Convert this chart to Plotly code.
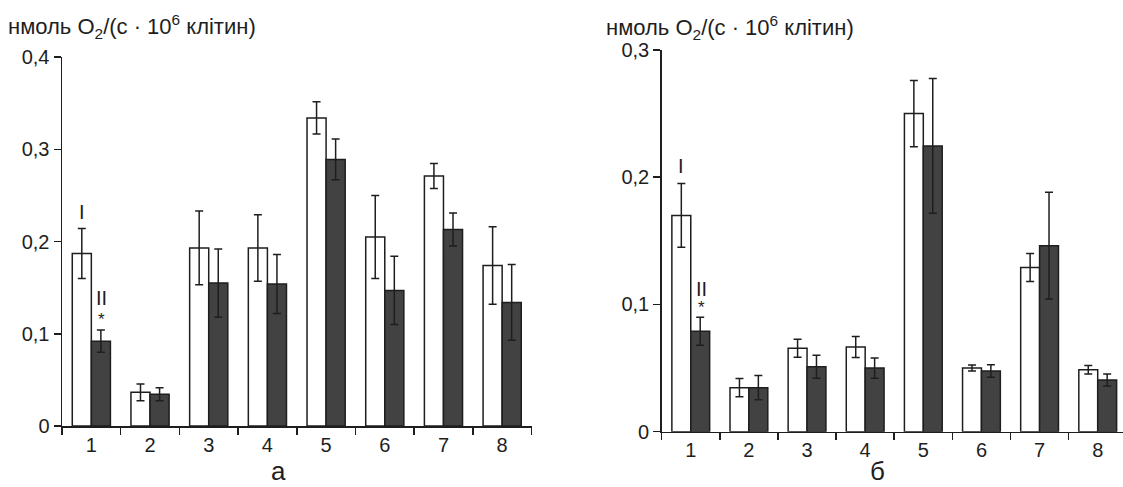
import plotly.graph_objects as go

categories = ["1", "2", "3", "4", "5", "6", "7", "8"]

# Panel а
a_I = [0.187, 0.0365, 0.193, 0.193, 0.334, 0.205, 0.271, 0.174]
a_I_err = [0.027, 0.009, 0.040, 0.036, 0.0175, 0.045, 0.0135, 0.042]
a_II = [0.092, 0.0344, 0.155, 0.154, 0.289, 0.147, 0.213, 0.134]
a_II_err = [0.012, 0.007, 0.037, 0.032, 0.022, 0.037, 0.018, 0.041]

# Panel б
b_I = [0.170, 0.0346, 0.0656, 0.0666, 0.250, 0.0501, 0.129, 0.0487]
b_I_err = [0.025, 0.0072, 0.007, 0.0083, 0.026, 0.0024, 0.011, 0.0033]
b_II = [0.079, 0.0346, 0.0511, 0.050, 0.2246, 0.0477, 0.1462, 0.0406]
b_II_err = [0.011, 0.0095, 0.009, 0.008, 0.053, 0.005, 0.042, 0.0047]

a_tickvals = [0, 0.1, 0.2, 0.3, 0.4]
a_ticktext = ["0", "0,1", "0,2", "0,3", "0,4"]
b_tickvals = [0, 0.1, 0.2, 0.3]
b_ticktext = ["0", "0,1", "0,2", "0,3"]

y_title = "нмоль O<sub>2</sub>/(с · 10<sup>6</sup> клітин)"

FONT = "Liberation Sans, Arial, sans-serif"
INK = "#1e1e1e"
DARK = "#424242"
W, H = 1123, 487

fig = go.Figure()


def add_pair(I, Ie, II, IIe, xa, ya):
    fig.add_trace(go.Bar(x=categories, y=I, xaxis=xa, yaxis=ya, name="I",
                         marker=dict(color="white", line=dict(color=INK, width=1.5)),
                         error_y=dict(type="data", array=Ie, color=INK, thickness=1.5, width=4),
                         offsetgroup="I", showlegend=False))
    fig.add_trace(go.Bar(x=categories, y=II, xaxis=xa, yaxis=ya, name="II",
                         marker=dict(color=DARK, line=dict(color=INK, width=1.5)),
                         error_y=dict(type="data", array=IIe, color=INK, thickness=1.5, width=4),
                         offsetgroup="II", showlegend=False))


add_pair(a_I, a_I_err, a_II, a_II_err, "x", "y")
add_pair(b_I, b_I_err, b_II, b_II_err, "x2", "y2")

axis_common = dict(showline=True, linecolor=INK, linewidth=1.5, ticks="outside",
                   tickcolor=INK, tickwidth=1.5, ticklen=7, showgrid=False, zeroline=False,
                   automargin=False,
                   tickfont=dict(family=FONT, size=20, color=INK), fixedrange=True)

fig.update_layout(
    width=W, height=H, autosize=False,
    margin=dict(l=0, r=0, t=0, b=0),
    plot_bgcolor="white", paper_bgcolor="white",
    barmode="group", bargap=0.35, bargroupgap=0,
    xaxis=dict(domain=[62 / W, 531.5 / W], type="category", range=[-0.5, 7.5],
               tickson="boundaries", anchor="y", **axis_common),
    yaxis=dict(domain=[(H - 426) / H, (H - 57) / H], range=[0, 0.4],
               tickvals=a_tickvals, ticktext=a_ticktext, anchor="x", **axis_common),
    xaxis2=dict(domain=[661.7 / W, 1.0], type="category", range=[-0.5, 7.435],
                tickson="boundaries", anchor="y2", **axis_common),
    yaxis2=dict(domain=[(H - 431.7) / H, (H - 50) / H], range=[0, 0.3],
                tickvals=b_tickvals, ticktext=b_ticktext, anchor="x2", **axis_common),
)

ann_font = dict(family=FONT, size=20, color=INK)
title_font = dict(family=FONT, size=22, color=INK)
anns = [
    # axis titles
    dict(text=y_title, xref="paper", yref="paper", x=6 / W, y=(H - 26) / H,
         xanchor="left", yanchor="middle", showarrow=False, font=title_font),
    dict(text=y_title, xref="paper", yref="paper", x=604 / W, y=(H - 28) / H,
         xanchor="left", yanchor="middle", showarrow=False, font=title_font),
    # group markers panel а
    dict(text="I", xref="x", yref="y", x=-0.16, y=0.232, showarrow=False, font=ann_font),
    dict(text="II", xref="x", yref="y", x=0.18, y=0.139, showarrow=False, font=ann_font),
    dict(text="*", xref="x", yref="y", x=0.18, y=0.115, showarrow=False, font=dict(family=FONT, size=17, color=INK)),
    # group markers panel б
    dict(text="I", xref="x2", yref="y2", x=-0.16, y=0.209, showarrow=False, font=ann_font),
    dict(text="II", xref="x2", yref="y2", x=0.18, y=0.112, showarrow=False, font=ann_font),
    dict(text="*", xref="x2", yref="y2", x=0.18, y=0.0975, showarrow=False, font=dict(family=FONT, size=17, color=INK)),
    # panel labels
    dict(text="а", xref="paper", yref="paper", x=278 / W, y=(H - 471) / H,
         xanchor="center", yanchor="middle", showarrow=False, font=dict(family=FONT, size=26, color=INK)),
    dict(text="б", xref="paper", yref="paper", x=877 / W, y=(H - 471) / H,
         xanchor="center", yanchor="middle", showarrow=False, font=dict(family=FONT, size=26, color=INK)),
]
fig.update_layout(annotations=anns)

fig.write_html(
    "out.html",
    config={"displayModeBar": False, "staticPlot": True},
    post_script="document.body.style.margin='0';document.body.style.overflow='hidden';",
)
